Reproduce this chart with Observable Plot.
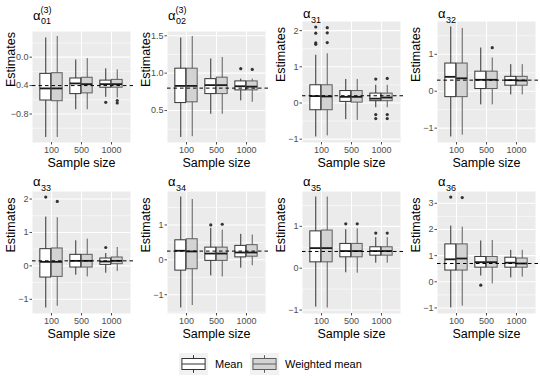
<!DOCTYPE html>
<html>
<head>
<meta charset="utf-8">
<script src="https://cdn.jsdelivr.net/npm/d3@7"></script>
<script src="https://cdn.jsdelivr.net/npm/@observablehq/plot@0.6"></script>
<style>
  body { margin: 0; background: #fff; }
  #root { position: relative; width: 540px; height: 378px; overflow: hidden; background: #fff;
          font-family: "Liberation Sans", Arial, sans-serif; }
  .panel { position: absolute; }
  .title { position: absolute; font-size: 13px; line-height: 13px; color: #000; white-space: nowrap; }
  .title .sc { position: absolute; font-size: 9px; line-height: 9px; }
  #legend { position: absolute; left: 0; top: 340px; }
</style>
</head>
<body>
<div id="root"></div>
<script>
// ---------------- data ----------------
const sizes = ["100", "500", "1000"];
const methods = ["Mean", "Weighted mean"];
const titleSubs = ["01", "02", "31", "32", "33", "34", "35", "36"];
const titleSups = ["(3)", "(3)", "", "", "", "", "", ""];
const trueValues = [-0.4, 0.8, 0.2, 0.3, 0.15, 0.25, 0.4, 0.7];
const yTicks = [
  [-0.8, -0.4, 0.0],
  [0.5, 1.0, 1.5],
  [-1, 0, 1, 2],
  [-1, 0, 1],
  [-1, 0, 1, 2],
  [-1, 0, 1],
  [-1, 0, 1],
  [-1, 0, 1, 2, 3]
];
// order in each row: 100 Mean, 100 Weighted, 500 Mean, 500 Weighted, 1000 Mean, 1000 Weighted
const whiskerLow = [
  [-1.13, -1.13, -0.74, -0.74, -0.565, -0.575],
  [0.14, 0.15, 0.45, 0.45, 0.63, 0.61],
  [-0.94, -0.91, -0.46, -0.48, -0.13, -0.13],
  [-1.24, -1.19, -0.37, -0.37, -0.10, -0.10],
  [-1.26, -1.21, -0.28, -0.33, -0.22, -0.17],
  [-1.38, -1.31, -0.46, -0.49, -0.24, -0.17],
  [-0.93, -0.95, -0.11, -0.12, 0.12, 0.12],
  [-1.0, -0.93, 0.22, -0.08, 0.15, 0.18]
];
const quart1 = [
  [-0.61, -0.62, -0.52, -0.51, -0.43, -0.43],
  [0.60, 0.61, 0.72, 0.72, 0.77, 0.77],
  [-0.20, -0.20, 0.03, 0.01, 0.05, 0.05],
  [-0.16, -0.16, 0.06, 0.06, 0.15, 0.15],
  [-0.35, -0.33, -0.05, -0.05, 0.03, 0.05],
  [-0.31, -0.27, -0.03, -0.03, 0.07, 0.09],
  [0.14, 0.14, 0.26, 0.26, 0.30, 0.30],
  [0.43, 0.43, 0.54, 0.54, 0.54, 0.54]
];
const medians = [
  [-0.44, -0.44, -0.37, -0.38, -0.38, -0.38],
  [0.83, 0.83, 0.84, 0.84, 0.825, 0.82],
  [0.19, 0.18, 0.17, 0.17, 0.12, 0.15],
  [0.39, 0.35, 0.31, 0.31, 0.30, 0.29],
  [0.12, 0.12, 0.15, 0.15, 0.13, 0.15],
  [0.26, 0.24, 0.18, 0.18, 0.21, 0.21],
  [0.48, 0.48, 0.41, 0.41, 0.41, 0.41],
  [0.86, 0.89, 0.75, 0.75, 0.73, 0.70]
];
const quart3 = [
  [-0.235, -0.226, -0.30, -0.29, -0.33, -0.32],
  [1.06, 1.06, 0.92, 0.94, 0.89, 0.89],
  [0.49, 0.49, 0.33, 0.33, 0.26, 0.26],
  [0.75, 0.75, 0.53, 0.53, 0.39, 0.39],
  [0.50, 0.52, 0.33, 0.33, 0.22, 0.25],
  [0.56, 0.59, 0.35, 0.35, 0.40, 0.42],
  [0.88, 0.90, 0.58, 0.58, 0.50, 0.50],
  [1.43, 1.43, 0.95, 0.95, 0.92, 0.89]
];
const whiskerHigh = [
  [0.27, 0.29, -0.04, -0.02, -0.165, -0.18],
  [1.47, 1.49, 1.19, 1.21, 0.92, 0.92],
  [1.32, 1.36, 0.65, 0.65, 0.49, 0.49],
  [1.74, 1.70, 1.17, 0.90, 0.72, 0.72],
  [1.46, 1.44, 0.75, 0.80, 0.37, 0.55],
  [1.80, 1.73, 0.90, 0.85, 0.73, 0.71],
  [1.70, 1.70, 0.92, 0.94, 0.73, 0.73],
  [2.13, 2.09, 1.56, 1.58, 1.20, 1.20]
];
const outliers = [
  [[], [], [], [], [-0.635], [-0.61, -0.645]],
  [[], [], [], [], [1.06], [1.05]],
  [[2.1, 1.93, 1.66, 1.62], [2.08, 1.94, 1.67], [], [], [0.66, -0.32, -0.43], [0.68, -0.32, -0.43]],
  [[], [], [], [1.18], [], []],
  [[2.06], [1.93], [], [], [0.55], []],
  [[], [], [1.0], [1.02], [], []],
  [[], [], [1.06], [1.06], [0.84], [0.84]],
  [[3.24], [3.22], [-0.13], [], [], []]
];

// ---------------- styles ----------------
const fills = ["#FFFFFF", "#D3D3D3"];
const strokes = ["#333333", "#5E5E5E"];
const FONT = "Liberation Sans, Arial, sans-serif";

const root = document.getElementById("root");
const W = 135, H = 170, ML = 32, MR = 5;

for (let i = 0; i < 8; i++) {
  const r = Math.floor(i / 4), c = i % 4;
  const hasSup = titleSups[i] !== "";
  const top = r === 0 ? 0 : 170;
  const mt = r === 0 ? (hasSup ? 31 : 21) : 21;
  const mb = r === 0 ? 28 : 27;
  const step = (W - ML - MR) / 3.2;

  const boxes = [];
  const outs = [];
  sizes.forEach((s, si) => methods.forEach((m, mi) => {
    const k = si * 2 + mi;
    boxes.push({size: s, method: mi, lo: whiskerLow[i][k], q1: quart1[i][k], med: medians[i][k],
                q3: quart3[i][k], hi: whiskerHigh[i][k]});
    outliers[i][k].forEach(v => outs.push({size: s, method: mi, v}));
  }));

  const vals = [...boxes.flatMap(b => [b.lo, b.hi]), ...outs.map(o => o.v), trueValues[i]];
  const [mn, mx] = d3.extent(vals);
  const pad = (mx - mn) * 0.05;
  const dom = [mn - pad, mx + pad];

  const ticks = yTicks[i];
  const st = ticks[1] - ticks[0];
  const minor = [ticks[0] - st / 2, ...ticks.map(t => t + st / 2)].filter(v => v >= dom[0] && v <= dom[1]);
  const fmt = Number.isInteger(st) ? d3.format("d") : d3.format(".1f");

  const marks = [
    Plot.frame({fill: "#EBEBEB", stroke: null}),
    Plot.ruleY(minor, {stroke: "#FFFFFF", strokeWidth: 0.55}),
    Plot.ruleY(ticks, {stroke: "#FFFFFF", strokeWidth: 1.1}),
    Plot.ruleX(sizes, {x: d => d, stroke: "#FFFFFF", strokeWidth: 1.1})
  ];
  [0, 1].forEach(mi => {
    const rows = boxes.filter(b => b.method === mi);
    const o = outs.filter(d => d.method === mi);
    const sign = mi === 0 ? -1 : 1;
    const dx = sign * 0.1875 * step;
    const insetLeft = mi === 0 ? 0.125 * step : 0.5 * step;
    const insetRight = mi === 0 ? 0.5 * step : 0.125 * step;
    marks.push(
      Plot.ruleX(rows, {x: "size", y1: "lo", y2: "hi", dx, stroke: strokes[mi], strokeWidth: 1}),
      Plot.barY(rows, {x: "size", y1: "q1", y2: "q3", insetLeft, insetRight, fill: fills[mi], stroke: strokes[mi], strokeWidth: 1}),
      Plot.tickY(rows, {x: "size", y: "med", insetLeft, insetRight, stroke: "#1A1A1A", strokeWidth: 1.8}),
      Plot.dot(o, {x: "size", y: "v", dx, r: 1.6, fill: "#333333", stroke: null})
    );
  });
  marks.push(
    Plot.ruleY([trueValues[i]], {stroke: "#000000", strokeWidth: 1, strokeDasharray: "3.5,3", insetRight: -6}),
    Plot.axisY(ticks, {tickSize: 2.5, tickPadding: 1.5, fontSize: 9, tickFormat: fmt, label: null}),
    Plot.axisX({tickSize: 2.5, tickPadding: 1.5, fontSize: 9, label: null}),
    Plot.text(["Sample size"], {frameAnchor: "bottom", dy: 20, text: d => d, fontSize: 12.5, fill: "#000000", lineAnchor: "middle"}),
    Plot.text(["Estimates"], {frameAnchor: "left", dx: -22, rotate: -90, text: d => d, fontSize: 12.5, fill: "#000000", lineAnchor: "middle"})
  );

  const chart = Plot.plot({
    width: W, height: H,
    marginLeft: ML, marginRight: MR, marginTop: mt, marginBottom: mb,
    style: {fontFamily: FONT, background: "transparent", color: "#4D4D4D", overflow: "visible"},
    x: {type: "band", domain: sizes, paddingInner: 0, paddingOuter: 0.1},
    y: {domain: dom},
    marks
  });
  const wrap = document.createElement("div");
  wrap.className = "panel";
  wrap.style.left = (c * 135) + "px";
  wrap.style.top = top + "px";
  wrap.appendChild(chart);
  root.appendChild(wrap);

  // title (alpha with subscript / superscript)
  const cy = r === 0 ? (hasSup ? 16.7 : 15) : 183;
  const t = document.createElement("div");
  t.className = "title";
  t.style.left = (c * 135 + ML + 1) + "px";
  t.style.top = (cy - 7.6) + "px";
  t.innerHTML = "α";
  const sub = document.createElement("span");
  sub.className = "sc";
  sub.textContent = titleSubs[i];
  sub.style.left = "8px";
  sub.style.top = "8.3px";
  t.appendChild(sub);
  if (hasSup) {
    const sup = document.createElement("span");
    sup.className = "sc";
    sup.textContent = titleSups[i];
    sup.style.left = "7.5px";
    sup.style.top = "-3.5px";
    t.appendChild(sup);
  }
  root.appendChild(t);
}

// ---------------- legend ----------------
const legend = d3.create("svg").attr("id", "legend").attr("width", 540).attr("height", 38)
  .style("font-family", FONT);
const keyX = [179, 250];
const keyLabelX = [215, 285];
methods.forEach((m, mi) => {
  const g = legend.append("g").attr("transform", `translate(${keyX[mi]},13)`);
  const kw = 29, kh = 22;
  g.append("rect").attr("width", kw).attr("height", kh).attr("fill", "#F2F2F2");
  g.append("line").attr("x1", kw / 2).attr("x2", kw / 2).attr("y1", kh * 0.1).attr("y2", kh * 0.9)
    .attr("stroke", strokes[mi]).attr("stroke-width", 1);
  g.append("rect").attr("x", kw * 0.1).attr("y", kh * 0.25).attr("width", kw * 0.8).attr("height", kh * 0.5)
    .attr("fill", fills[mi]).attr("stroke", strokes[mi]).attr("stroke-width", 1);
  g.append("line").attr("x1", kw * 0.1).attr("x2", kw * 0.9).attr("y1", kh / 2).attr("y2", kh / 2)
    .attr("stroke", strokes[mi]).attr("stroke-width", 1);
  legend.append("text").attr("x", keyLabelX[mi]).attr("y", 24).attr("dy", "0.35em")
    .attr("font-size", 11).attr("fill", "#000").text(m);
});
root.appendChild(legend.node());
</script>
</body>
</html>
